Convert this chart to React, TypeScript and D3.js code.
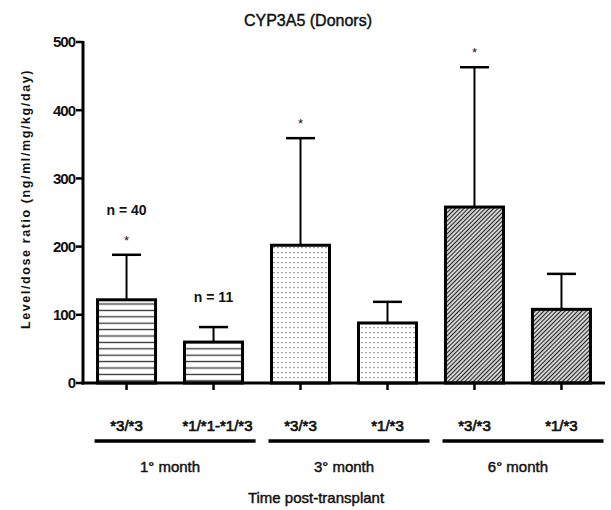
import React from "react";
import * as d3 from "d3";

const categories = ["*3/*3", "*1/*1-*1/*3", "*3/*3", "*1/*3", "*3/*3", "*1/*3"];
const groups = ["1° month", "3° month", "6° month"];
const groupOf = [0, 0, 1, 1, 2, 2];
const means = [122, 60, 202, 88, 258, 108];
const upperErr = [188, 82, 359, 119, 463, 160];
const stars = [true, false, true, false, true, false];
const nLabels = ["n = 40", "n = 11", "", "", "", ""];
const yTicks = [0, 100, 200, 300, 400, 500];
const patterns = ["hlines", "hlines", "dots", "dots", "diag", "diag"];

const W = 611;
const H = 510;
const x0 = 83;
const x1 = 605;
const y0 = 383;
const yTop = 42;
const font = "'Liberation Sans', Arial, sans-serif";

export default function App() {
  const idx = categories.map((_, i) => i);
  const x = d3
    .scaleBand<number>()
    .domain(idx)
    .range([x0, x1])
    .paddingInner(0.333)
    .paddingOuter(0.167);
  const y = d3.scaleLinear().domain([0, 500]).range([y0, yTop]);
  const bw = x.bandwidth();
  const step = x.step();
  const heavy = { stroke: "#111", strokeWidth: 0.45 };

  return (
    <svg
      width={W}
      height={H}
      style={{ position: "absolute", left: 0, top: 0, background: "#fff" }}
      fontFamily={font}
    >
      <defs>
        <pattern id="hlines" patternUnits="userSpaceOnUse" width={10} height={6.4}>
          <line x1={0} x2={10} y1={3.2} y2={3.2} stroke="#333" strokeWidth={1.3} />
        </pattern>
        <pattern id="dots" patternUnits="userSpaceOnUse" width={4} height={5}>
          <rect x={1.4} y={2} width={1.2} height={1.2} fill="#666" />
        </pattern>
        <pattern
          id="diag"
          patternUnits="userSpaceOnUse"
          width={3}
          height={10}
          patternTransform="rotate(45)"
        >
          <line x1={1.5} x2={1.5} y1={0} y2={10} stroke="#222" strokeWidth={1.4} />
        </pattern>
      </defs>

      {/* title */}
      <text x={308} y={26} textAnchor="middle" fontSize={16} fill="#111" {...heavy}>
        CYP3A5 (Donors)
      </text>

      {/* y axis label */}
      <text
        transform={`translate(30, 199) rotate(-90)`}
        textAnchor="middle"
        fontSize={12.5}
        fontWeight="bold"
        letterSpacing={1.6}
        fill="#111"
      >
        Level/dose ratio (ng/ml/mg/kg/day)
      </text>

      {/* bars */}
      {idx.map((i) => {
        const bx = x(i)!;
        const cx = bx + bw / 2;
        return (
          <g key={i}>
            <line x1={cx} x2={cx} y1={y(means[i])} y2={y(upperErr[i])} stroke="#000" strokeWidth={2} />
            <line
              x1={cx - bw / 4}
              x2={cx + bw / 4}
              y1={y(upperErr[i])}
              y2={y(upperErr[i])}
              stroke="#000"
              strokeWidth={2.5}
            />
            <rect
              x={bx}
              y={y(means[i])}
              width={bw}
              height={y(0) - y(means[i])}
              fill="#fff"
            />
            <rect
              x={bx}
              y={y(means[i])}
              width={bw}
              height={y(0) - y(means[i])}
              fill={`url(#${patterns[i]})`}
              stroke="#000"
              strokeWidth={3}
            />
            {stars[i] && (
              <text x={cx} y={y(upperErr[i]) - 10} textAnchor="middle" fontSize={13} fill="#111">
                *
              </text>
            )}
            {nLabels[i] && (
              <text
                x={cx}
                y={y(upperErr[i]) - (i === 0 ? 40 : 25)}
                textAnchor="middle"
                fontSize={14}
                fontWeight="bold"
                fill="#111"
              >
                {nLabels[i]}
              </text>
            )}
          </g>
        );
      })}

      {/* y axis */}
      <line x1={x0} x2={x0} y1={yTop - 1} y2={y0 + 1.5} stroke="#000" strokeWidth={3} />
      {yTicks.map((t) => (
        <g key={t}>
          <line x1={x0 - 7} x2={x0} y1={y(t)} y2={y(t)} stroke="#000" strokeWidth={2.5} />
          <text
            x={x0 - 8}
            y={y(t)}
            dy="0.36em"
            textAnchor="end"
            fontSize={15}
            fontWeight="bold"
            letterSpacing={-1}
            fill="#111"
          >
            {t}
          </text>
        </g>
      ))}

      {/* x axis */}
      <line x1={x0 - 1.5} x2={x1} y1={y0} y2={y0} stroke="#000" strokeWidth={3} />
      {idx.map((i) => {
        const cx = x(i)! + bw / 2;
        return (
          <g key={i}>
            <line x1={cx} x2={cx} y1={y0} y2={y0 + 7} stroke="#000" strokeWidth={2.5} />
            <text
              x={cx + (i === 1 ? 4 : 0)}
              y={431}
              textAnchor="middle"
              fontSize={15}
              fill="#111"
              stroke="#111"
              strokeWidth={0.7}
            >
              {categories[i]}
            </text>
          </g>
        );
      })}

      {/* group lines and labels */}
      {groups.map((g, gi) => {
        const members = idx.filter((i) => groupOf[i] === gi);
        const first = x(members[0])!;
        const last = x(members[members.length - 1])! + bw;
        const start = first - 3;
        const end = Math.min(last + 0.15 * step, W);
        const mid = (first + last) / 2;
        return (
          <g key={g}>
            <line x1={start} x2={end} y1={441} y2={441} stroke="#000" strokeWidth={3.5} />
            <text x={mid} y={472} textAnchor="middle" fontSize={15} fill="#111" {...heavy}>
              {g}
            </text>
          </g>
        );
      })}

      <text x={316} y={503} textAnchor="middle" fontSize={15} fill="#111" {...heavy}>
        Time post-transplant
      </text>
    </svg>
  );
}
